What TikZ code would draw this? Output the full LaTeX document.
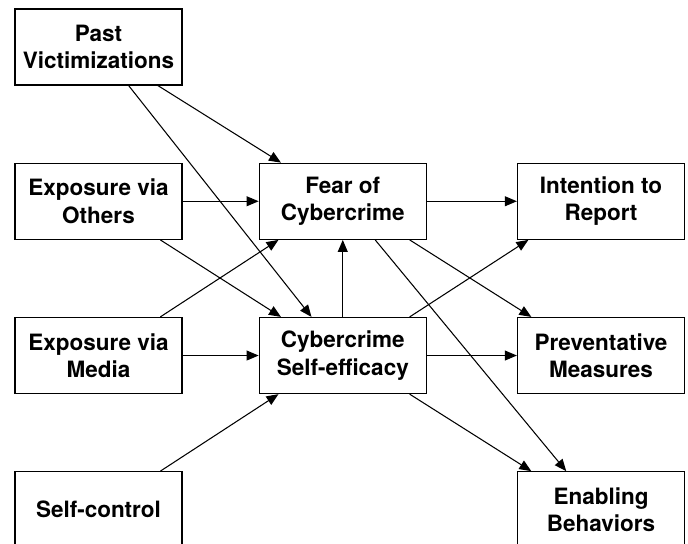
\documentclass[tikz,border=0pt]{standalone}
\usepackage{fontspec}
\setmainfont{TeX Gyre Heros}
\usepackage{tikz}
\usetikzlibrary{arrows.meta,positioning}

\begin{document}
\begin{tikzpicture}[node distance=1.925cm and 1.9cm,
    var/.style={draw,line width=0.9pt,minimum width=4.175cm,minimum height=1.9cm,align=center,
      font=\fontsize{16}{19.5}\selectfont\bfseries},
    path/.style={-{Triangle[length=8.5pt,width=7pt]},line width=0.75pt}]
  \useasboundingbox (0,0) rectangle (17.2,-13.6);
  % exogenous
  \node[var] (pastvic) at (2.4625,-1.175) {Past\\Victimizations};
  \node[var,below=of pastvic] (others) {Exposure via\\Others};
  \node[var,below=of others] (media) {Exposure via\\Media};
  \node[var,below=of media] (selfctrl) {Self-control};
  % mediators
  \node[var,right=of others] (fear) {Fear of\\Cybercrime};
  \node[var,right=of media] (efficacy) {Cybercrime\\Self-efficacy};
  % outcomes
  \node[var,right=2.25cm of fear] (report) {Intention to\\Report};
  \node[var,right=2.25cm of efficacy] (prevent) {Preventative\\Measures};
  \node[var,below=of prevent] (enabling) {Enabling\\Behaviors};
  % paths
  \draw[path] (pastvic.-33) -- (fear.148.7);
  \draw[path] (pastvic.-52) -- (efficacy.129.3);
  \draw[path] (others) -- (fear);
  \draw[path] (others.-32) -- (efficacy.148.4);
  \draw[path] (media.32.4) -- (fear.211.3);
  \draw[path] (media) -- (efficacy);
  \draw[path] (selfctrl.32.5) -- (efficacy.211.6);
  \draw[path] (efficacy) -- (fear);
  \draw[path] (fear) -- (report);
  \draw[path] (fear.-30.5) -- (prevent.151.9);
  \draw[path] (fear.-50.3) -- (enabling.132);
  \draw[path] (efficacy.30.8) -- (report.208.8);
  \draw[path] (efficacy) -- (prevent);
  \draw[path] (efficacy.-30.8) -- (enabling.151);
\end{tikzpicture}
\end{document}
